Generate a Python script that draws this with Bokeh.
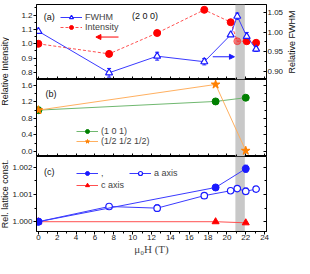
import numpy as np
from bokeh.plotting import figure
from bokeh.models import (Range1d, LinearAxis, SingleIntervalTicker, PrintfTickFormatter,
                          BoxAnnotation, Label, Legend, LegendItem, Arrow, NormalHead,
                          Whisker, ColumnDataSource, TeeHead)
from bokeh.layouts import column, row
from bokeh.embed import file_html
from bokeh.resources import INLINE
from bokeh.core.properties import value

# ---------------- data ----------------
field_a = [0, 7.5, 12.6, 17.6, 20.4, 21.1, 22.1, 23.1]
fwhm = [1.002, 0.897, 0.939, 0.925, 0.993, 1.040, 0.989, 0.957]
fwhm_err = [0, 0.011, 0.010, 0.008, 0, 0.008, 0.010, 0.006]
intensity = [1.0, 0.93, 1.075, 1.236, 1.15, 1.018, 1.018, 1.007]

field_b = [0, 18.8, 22.0]
int_101 = [1.0, 1.21, 1.30]
int_half = [1.0, 1.62, 0.02]

field_c_filled = [0, 18.8, 22.0]
a_filled = [1.0, 1.00126, 1.00195]
a_filled_err = [0, 0.00003, 0.00013]
field_c_open = [0, 7.5, 12.6, 17.6, 20.4, 21.1, 22.0, 23.1]
a_open = [1.0, 1.00056, 1.0005, 1.00096, 1.00114, 1.00122, 1.00112, 1.0012]
a_open_err = [0, 0.00003, 0.00012, 0.00003, 0.00003, 0.00004, 0.00012, 0.00004]
field_c_red = [0, 18.8, 22.0]
c_axis = [1.0, 1.0, 0.99996]

band_field = [20.9, 21.9]

# ---------------- style ----------------
FONT = "Liberation Sans"
X_RANGE = (-0.2, 24.2)
BLUE = "#1a1aff"
BLUE_LINE = "#3a3aff"
RED = "#ff0000"
RED_LINE = "#ff5050"
GREEN = "#008000"
GREEN_LINE = "#70b870"
ORANGE = "#ff8000"
ORANGE_LINE = "#ffb060"

TOTAL_H = 258
LEFT_W = 9
RIGHT_W = 11
FRAME_W = 230
BORDER_L = 24
BORDER_R = 20
FH_A, FH_B, FH_C = 75, 77, 75
TOP_A = 4


def make_fig(frame_h, y_range, top, bottom):
    p = figure(frame_width=FRAME_W, frame_height=frame_h, x_range=Range1d(*X_RANGE),
               y_range=y_range, x_axis_type=None, y_axis_type=None, output_backend="svg",
               toolbar_location=None, min_border=0, min_border_left=BORDER_L,
               min_border_right=BORDER_R, min_border_top=top, min_border_bottom=bottom)
    p.outline_line_color = "black"
    p.outline_line_width = 1
    p.background_fill_color = "white"
    p.border_fill_color = "white"
    return p


def add_axis(p, side, interval, labels=False, fmt=None, tin=0, tout=3, y_range_name=None):
    kw = {}
    if y_range_name:
        kw["y_range_name"] = y_range_name
    ax = LinearAxis(ticker=SingleIntervalTicker(interval=interval, num_minor_ticks=2), **kw)
    ax.major_tick_in = tin
    ax.major_tick_out = tout
    ax.minor_tick_in = 2 if tin else 0
    ax.minor_tick_out = 2 if tout else 0
    ax.axis_line_color = "black"
    ax.major_tick_line_color = "black"
    ax.minor_tick_line_color = "black"
    if labels:
        ax.major_label_text_font = FONT
        ax.major_label_text_font_size = "8px"
        ax.major_label_text_color = "#222222"
        ax.major_label_standoff = 1
        if fmt:
            ax.formatter = PrintfTickFormatter(format=fmt)
    else:
        ax.major_label_text_font_size = "0px"
        ax.major_label_standoff = 0
        ax.major_label_text_alpha = 0
    p.add_layout(ax, side)
    return ax


def band(p):
    p.add_layout(BoxAnnotation(left=band_field[0], right=band_field[1], fill_color="#c8c8c8",
                               fill_alpha=1.0, line_color=None, level="underlay"))


def legend(p, items, loc, orientation="vertical", spacing=0):
    lg = Legend(items=items, location=loc, orientation=orientation, padding=0, margin=0,
                spacing=spacing, background_fill_alpha=0, border_line_alpha=0,
                label_text_font=FONT, label_text_font_size="9px", glyph_width=22,
                glyph_height=10, label_height=10, label_standoff=3)
    p.add_layout(lg)


def label(p, x, y, text, size="9px", y_range_name="default"):
    p.add_layout(Label(x=x, y=y, text=text, text_font=FONT, text_font_size=size,
                       text_align="center", text_baseline="middle",
                       text_color="#111111", y_range_name=y_range_name))


def errbars(p, xs, ys, errs, color, y_range_name="default"):
    sel = [i for i, e in enumerate(errs) if e > 0]
    src = ColumnDataSource(dict(x=[xs[i] for i in sel],
                                up=[ys[i] + errs[i] for i in sel],
                                lo=[ys[i] - errs[i] for i in sel]))
    p.add_layout(Whisker(source=src, base="x", upper="up", lower="lo", line_color=color,
                         line_width=1, y_range_name=y_range_name,
                         upper_head=TeeHead(size=4, line_color=color),
                         lower_head=TeeHead(size=4, line_color=color)))


# ---------------- panel (a) ----------------
pa = make_fig(FH_A, Range1d(0.752, 1.273), top=TOP_A, bottom=0)
pa.extra_y_ranges = {"fwhm": Range1d(0.880, 1.0697)}
band(pa)
add_axis(pa, "left", 0.1, labels=True, fmt="%.1f")
add_axis(pa, "right", 0.05, labels=True, fmt="%.2f", tin=3, tout=0, y_range_name="fwhm")
add_axis(pa, "below", 2, tin=3, tout=0)

int_alpha = [0.45 if band_field[0] <= x <= band_field[1] else 1.0 for x in field_a]
src_int = ColumnDataSource(dict(x=field_a, y=intensity, a=int_alpha))
l_int = pa.line(field_a, intensity, line_color=RED_LINE, line_dash="3 2", line_width=1)
s_int = pa.scatter("x", "y", source=src_int, marker="circle", size=7, fill_color=RED,
                   line_color=RED, fill_alpha="a", line_alpha="a")

errbars(pa, field_a, fwhm, fwhm_err, BLUE, y_range_name="fwhm")
l_fw = pa.line(field_a, fwhm, line_color=BLUE_LINE, line_width=1, y_range_name="fwhm")
s_fw = pa.scatter(field_a, fwhm, marker="triangle", size=7, fill_color="white",
                  line_color=BLUE, line_width=1.2, y_range_name="fwhm")

legend(pa, [LegendItem(label="FWHM", renderers=[l_fw, s_fw]),
            LegendItem(label="Intensity", renderers=[l_int, s_int])], (24, 47))
label(pa, 1.15, 1.185, "(a)")
label(pa, 11.3, 1.19, "(2 0 0)")
pa.add_layout(Arrow(end=NormalHead(size=5, fill_color=RED, line_color=RED),
                    x_start=8.5, y_start=1.047, x_end=6.1, y_end=1.047,
                    line_color=RED, line_width=1))
pa.add_layout(Arrow(end=NormalHead(size=5, fill_color=BLUE, line_color=BLUE),
                    x_start=18.5, y_start=0.9375, x_end=20.8, y_end=0.9375,
                    line_color=BLUE, line_width=1, y_range_name="fwhm"))

# ---------------- panel (b) ----------------
pb = make_fig(FH_B, Range1d(-0.12, 1.74), top=0, bottom=0)
band(pb)
add_axis(pb, "left", 0.4, labels=True, fmt="%.1f")
add_axis(pb, "right", 0.4, tin=3, tout=0)
add_axis(pb, "below", 2, tin=3, tout=0)

l_101 = pb.line(field_b, int_101, line_color=GREEN_LINE, line_width=1)
s_101 = pb.scatter(field_b, int_101, marker="circle", size=7, fill_color=GREEN, line_color=GREEN)
l_h = pb.line(field_b, int_half, line_color=ORANGE_LINE, line_width=1)
s_h = pb.scatter(field_b, int_half, marker="star", size=9, fill_color=ORANGE, line_color=ORANGE)
legend(pb, [LegendItem(label="(1 0 1)", renderers=[l_101, s_101]),
            LegendItem(label="(1/2 1/2 1/2)", renderers=[l_h, s_h])], (40, 10))
label(pb, 1.35, 1.40, "(b)")

# ---------------- panel (c) ----------------
pc = make_fig(FH_C, Range1d(0.99964, 1.0024), top=0, bottom=0)
band(pc)
add_axis(pc, "left", 0.001, labels=True, fmt="%.3f")
add_axis(pc, "right", 0.001, tin=3, tout=0)
xb = add_axis(pc, "below", 2, labels=True, fmt="%d")
xb.major_label_standoff = 0
xb.axis_label = "μ₀H (T)"
xb.axis_label_text_font = "Liberation Serif"
xb.axis_label_text_font_size = "11px"
xb.axis_label_text_font_style = "normal"
xb.axis_label_standoff = 0

l_c = pc.line(field_c_red, c_axis, line_color=RED_LINE, line_width=1)
s_c = pc.scatter(field_c_red, c_axis, marker="triangle", size=7, fill_color=RED, line_color=RED)
errbars(pc, field_c_open, a_open, a_open_err, BLUE)
errbars(pc, field_c_filled, a_filled, a_filled_err, BLUE)
l_ao = pc.line(field_c_open, a_open, line_color=BLUE_LINE, line_width=1)
s_ao = pc.scatter(field_c_open, a_open, marker="circle", size=6.5, fill_color="white",
                  line_color=BLUE, line_width=1.2)
l_af = pc.line(field_c_filled, a_filled, line_color=BLUE_LINE, line_width=1)
s_af = pc.scatter(field_c_filled, a_filled, marker="circle", size=7, fill_color=BLUE,
                  line_color=BLUE)

legend(pc, [LegendItem(label=",", renderers=[l_af, s_af]),
            LegendItem(label="a axis", renderers=[l_ao, s_ao])], (40, 53),
       orientation="horizontal", spacing=8)
legend(pc, [LegendItem(label="c axis", renderers=[l_c, s_c])], (40, 41))
label(pc, 1.15, 1.00182, "(c)")


# ---------------- side label strips ----------------
def strip(width, texts, ys):
    s = figure(width=width, height=TOTAL_H, x_range=Range1d(0, width),
               y_range=Range1d(TOTAL_H, 0), x_axis_type=None, y_axis_type=None,
               output_backend="svg", toolbar_location=None, min_border=0)
    s.outline_line_color = None
    s.xgrid.visible = False
    s.ygrid.visible = False
    s.text(x=[width / 2.0] * len(texts), y=ys, text=texts, angle=np.pi / 2,
           text_align="center", text_baseline="middle", text_font=value(FONT),
           text_font_size="9px", text_color="#111111")
    return s


a_bottom = TOP_A + FH_A
b_bottom = a_bottom + FH_B
left_strip = strip(LEFT_W, ["Relative Intensity", "Rel. lattice const."],
                   [a_bottom - 8, b_bottom + FH_C / 2.0])
right_strip = strip(RIGHT_W, ["Relative FWHM"], [TOP_A + FH_A / 2.0])

layout = row(left_strip, column(pa, pb, pc, spacing=0), right_strip, spacing=0)
open("out.html", "w").write(file_html(layout, INLINE))
